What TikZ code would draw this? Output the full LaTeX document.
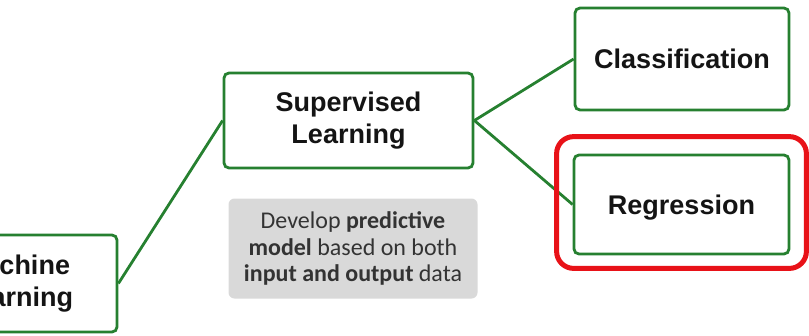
\documentclass[tikz,border=0pt]{standalone}
\usepackage{fontspec}
\setmainfont{Liberation Sans}
\newfontfamily\notefont{Carlito}
\usetikzlibrary{positioning}

\definecolor{boxgreen}{RGB}{38,128,48}
\definecolor{notegray}{RGB}{217,217,217}
\definecolor{hilite}{RGB}{232,18,24}

\tikzset{
	topic/.style={draw=boxgreen, line width=2.8pt, rounded corners=5pt, fill=white,
		align=center, inner sep=0pt, text=black!92,
		font=\fontsize{27}{32}\selectfont\bfseries},
	note/.style={fill=notegray, rounded corners=6pt, align=center, inner sep=0pt,
		text=black!80, font=\notefont\fontsize{24}{26.5}\selectfont},
	link/.style={draw=boxgreen, line width=2.8pt},
	ring/.style={draw=hilite, line width=5pt, rounded corners=17pt},
}

\begin{document}
\begin{tikzpicture}[x=1pt,y=-1pt]

	% ---- frame

	\useasboundingbox (0,0) rectangle (809,335);
	\clip (0,0) rectangle (809,335);

	% ---- boxes

	\node[topic, minimum width=202pt, minimum height=97pt] (ml) at (16,283.5) {Machine\\Learning};
	\node[topic, minimum width=249pt, minimum height=95pt] (sup) at (348.5,120.5) {Supervised\\Learning};
	\node[topic, minimum width=214pt, minimum height=102pt] (cls) at (682,59) {Classification};
	\node[topic, minimum width=215pt, minimum height=99pt, text depth=0pt] (reg) at (681.5,204.5) {Regression};

	\node[note, minimum width=249pt, minimum height=100pt] (desc) at (353,248.5)
		{Develop \textbf{predictive}\\\textbf{model} based on both\\\textbf{input and output} data};

	% ---- links

	\draw[link] (ml.east) -- (sup.west);
	\draw[link] (sup.east) -- (cls.west);
	\draw[link] (sup.east) -- (reg.west);

	% ---- highlight

	\draw[ring] ([shift={(-16,-17)}]reg.north west) rectangle ([shift={(16,13)}]reg.south east);

\end{tikzpicture}
\end{document}
